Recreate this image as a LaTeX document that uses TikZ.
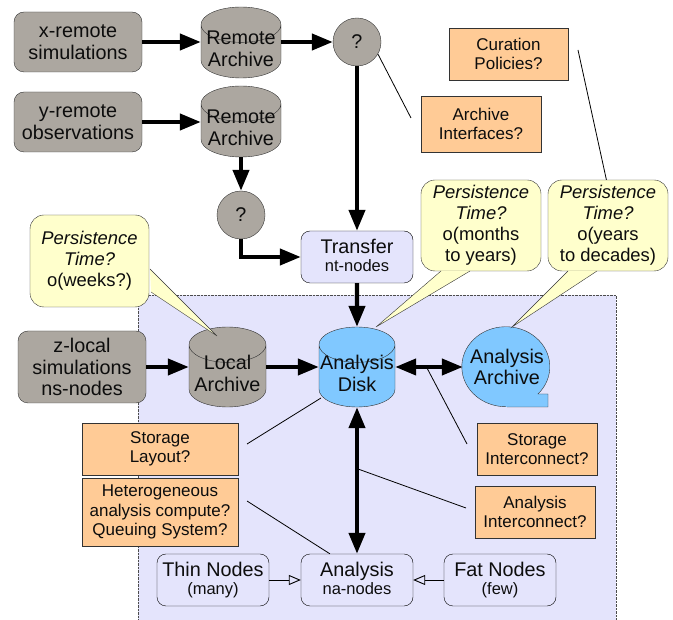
\documentclass[tikz,border=0pt]{standalone}
\usepackage{fontspec}
\setmainfont{Liberation Sans}
\usetikzlibrary{arrows.meta, shapes.geometric}
\definecolor{stone}{RGB}{172,167,160}
\definecolor{lavender}{RGB}{228,228,252}
\definecolor{peach}{RGB}{255,203,150}
\definecolor{butter}{RGB}{255,255,204}
\definecolor{sky}{RGB}{128,200,255}
\tikzset{x=1pt, y=1pt,
	flow/.style={->, line width=4.2pt, >={Triangle[length=21pt, width=16pt]}},
	both/.style={<->, line width=4.2pt, >={Triangle[length=21pt, width=16pt]}},
	feeds/.style={->, line width=.9pt, >={Triangle[open, length=12pt, width=10pt, fill=lavender]}},
	every node/.style={align=center, font=\fontsize{19.8}{21.5}\selectfont, text=black!95},
	source/.style={draw=black!80, fill=stone, rounded corners=10pt, minimum width=128pt, inner sep=0pt},
	archive/.style={draw=black!80, fill=stone, cylinder, shape border rotate=90, aspect=.52, minimum width=80pt, minimum height=71pt, inner sep=0pt, anchor=shape center},
	ask/.style={draw=black!80, fill=stone, circle, minimum size=48pt, inner sep=0pt},
	compute/.style={draw=black, fill=lavender, rounded corners=9pt, minimum width=112pt, minimum height=52pt, inner sep=0pt},
	issue/.style={draw=black!80, fill=peach, minimum width=120pt, minimum height=52pt, inner sep=0pt, font=\fontsize{17}{19.3}\selectfont},
	bubble/.style={draw=black!80, fill=butter, rounded corners=14pt, minimum width=120pt, minimum height=91pt, inner sep=0pt, font=\fontsize{18.4}{21}\selectfont},
	tail/.style={draw=black!80, fill=butter},
	hint/.style={line width=.8pt},
}
\newcommand{\subline}[1]{\vphantom{(y}\\[-4pt]{\fontsize{16.5}{18}\selectfont\vphantom{(y}#1}}
\newcommand{\drum}{\rule{68pt}{0pt}}
\begin{document}
\begin{tikzpicture}
	\useasboundingbox (0,0) rectangle (673,-620);
	% the dotted panel sits under everything else
	\node[draw=black!70, densely dotted, fill=lavender, minimum width=478pt, minimum height=325pt, inner sep=0pt, anchor=north west] (Panel) at (138,-295) {};

	%% remote side
	\node[source, minimum height=60pt] (Xsim) at (78,-42) {x-remote\\simulations};
	\node[archive] (Xarch) at (241,-42.5) {\drum};
	\node (XarchText) at ([yshift=-6.5pt]Xarch.shape center) {Remote\\Archive};
	\node[ask] (Xask) at (357,-42) {?};
	\node[source, minimum height=60pt] (Ysim) at (78,-122) {y-remote\\observations};
	\node[archive] (Yarch) at (241,-121.5) {\drum};
	\node (YarchText) at ([yshift=-6.5pt]Yarch.shape center) {Remote\\Archive};
	\node[ask] (Yask) at (241,-215) {?};
	\node[compute] (Transfer) at (357,-257) {Transfer\subline{nt-nodes}};

	\draw[flow] (Xsim) -- (Xsim -| Xarch.west);
	\draw[flow] (Xarch.east |- Xask) -- (Xask);
	\draw[flow] (Ysim) -- (Ysim -| Yarch.west);
	\draw[flow] (Yarch.south) -- (Yask);
	\draw[flow] (Xask) -- (Transfer);
	\draw[flow] (Yask) |- (Transfer);

	%% persistence bubbles
	\node[bubble, minimum width=119pt, minimum height=92pt] (Weeks) at (89.5,-261) {\textit{Persistence}\\\textit{Time?}\\o(weeks?)};
	\node[bubble] (Months) at (481,-225.5) {\textit{Persistence}\\\textit{Time?}\\o(months\\to years)};
	\node[bubble] (Years) at (608,-225.5) {\textit{Persistence}\\\textit{Time?}\\o(years\\to decades)};

	%% local side
	\node[source, minimum height=72pt] (Zsim) at (82,-367) {z-local\\simulations\\ns-nodes};
	\node[archive, minimum width=77pt, minimum height=80pt] (Local) at (227.5,-367) {\drum};
	\node (LocalText) at ([yshift=-6.5pt]Local.shape center) {Local\\Archive};
	\node[archive, fill=sky, minimum width=76pt, minimum height=80pt] (Disk) at (357,-367) {\drum};
	\node (DiskText) at ([yshift=-6.5pt]Disk.shape center) {Analysis\\Disk};

	\draw[flow] (Zsim) -- (Zsim -| Local.west);
	\draw[flow] (Local.east |- Zsim) -- (Zsim -| Disk.west);
	\draw[flow] (Transfer) -- (Disk.north);

	% the tape shape has no ready made node
	\draw[draw=black!80, fill=sky] (507,-407) -- (548,-407) -- (548,-394) -- (538,-394) arc[start angle=-43, end angle=270, x radius=44, y radius=40];
	\node[minimum width=88pt, minimum height=80pt, inner sep=0pt] (Tape) at (507,-367) {Analysis\\Archive};
	\draw[both] (Disk.east |- Tape) -- (Tape);

	%% tails of the bubbles run over the panel and the drums
	\draw[tail] (150,-269) -- (217,-336) -- (151,-292);
	\draw[tail] (441,-271) -- (376,-327) -- (470,-271);
	\draw[tail] (568,-271) -- (512,-327) -- (597,-271);

	%% analysis cluster
	\node[compute] (Analysis) at (357,-580) {Analysis\subline{na-nodes}};
	\node[compute] (Thin) at (213,-580) {Thin Nodes\subline{(many)}};
	\node[compute] (Fat) at (500,-580) {Fat Nodes\subline{(few)}};
	\draw[both] (Disk.south) -- (Analysis);
	\draw[feeds] (Thin) -- (Analysis);
	\draw[feeds] (Fat) -- (Analysis);

	%% open questions
	\node[issue, minimum width=119pt] (Curation) at (508.5,-54) {Curation\\Policies?};
	\node[issue, minimum height=56pt] (Interfaces) at (481,-124) {Archive\\Interfaces?};
	\node[issue, minimum width=156pt] (Layout) at (160,-449) {Storage\\Layout?};
	\node[issue, minimum width=156pt, minimum height=68pt] (Hetero) at (160,-512) {Heterogeneous\\analysis compute?\\Queuing System?};
	\node[issue] (StoreNet) at (537,-449) {Storage\\Interconnect?};
	\node[issue] (AnaNet) at (535,-512) {Analysis\\Interconnect?};

	%% thin pointers, they stop short of the boxes
	\coordinate (CurationTip) at (578,-50);
	\coordinate (InterfacesTip) at (411,-118);
	\coordinate (LayoutTip) at (247,-444);
	\coordinate (LayoutEnd) at (321,-398);
	\coordinate (HeteroTip) at (247,-501);
	\coordinate (StoreNetTip) at (467,-444);
	\coordinate (AnaNetTip) at (466,-508);
	\coordinate (StoreLink) at (427,-368);
	\coordinate (AnaLink) at (358,-469);
	\draw[hint] (CurationTip) -- (Years.92);
	\draw[hint] (InterfacesTip) -- (Xask.-30);
	\draw[hint] (LayoutTip) -- (LayoutEnd);
	\draw[hint] (HeteroTip) -- (Analysis.136);
	\draw[hint] (StoreNetTip) -- (StoreLink);
	\draw[hint] (AnaNetTip) -- (AnaLink);
\end{tikzpicture}
\end{document}
